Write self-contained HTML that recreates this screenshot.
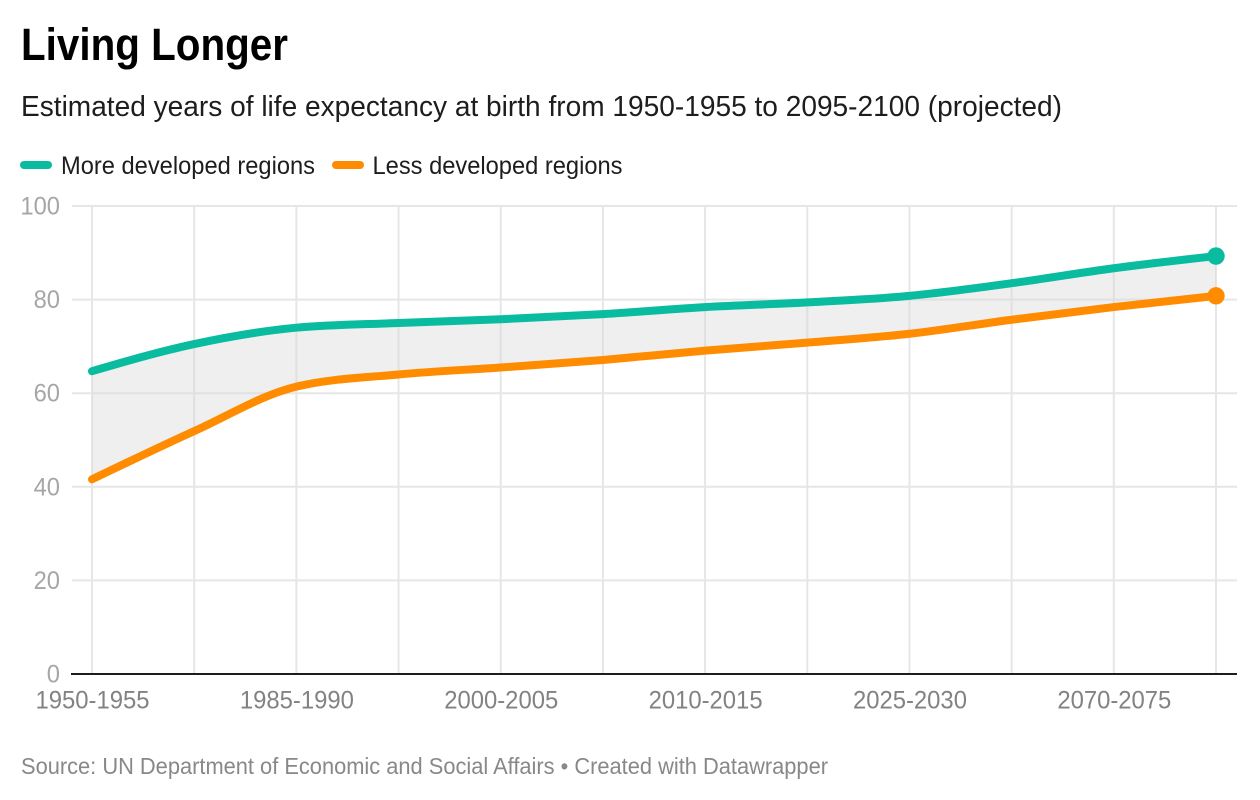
<!DOCTYPE html>
<html lang="en">
<head>
<meta charset="utf-8">
<title>Living Longer</title>
<style>
html,body{margin:0;padding:0;background:#fff;}
svg{display:block;font-family:"Liberation Sans",Arial,sans-serif;}
</style>
</head>
<body>
<svg id="chart" width="1260" height="800" viewBox="0 0 1260 800" xmlns="http://www.w3.org/2000/svg">
  <text x="21" y="60" font-size="45" font-weight="700" fill="#000" textLength="267" lengthAdjust="spacingAndGlyphs">Living Longer</text>
  <text x="21" y="116" font-size="29" fill="#1d1d1d" textLength="1041" lengthAdjust="spacingAndGlyphs">Estimated years of life expectancy at birth from 1950-1955 to 2095-2100 (projected)</text>
  <g>
    <rect x="20" y="161" width="32" height="8" rx="4" fill="#09bb9f"/>
    <text x="61" y="174" font-size="25" fill="#1d1d1d" textLength="254" lengthAdjust="spacingAndGlyphs">More developed regions</text>
    <rect x="332" y="161" width="32" height="8" rx="4" fill="#ff8c00"/>
    <text x="372.5" y="174" font-size="25" fill="#1d1d1d" textLength="250" lengthAdjust="spacingAndGlyphs">Less developed regions</text>
  </g>
  <g id="grid"></g>
  <g id="labels"></g>
  <path id="band" fill="#d7d7d7" fill-opacity="0.4"></path>
  <path id="axis" stroke="#1d1d1d" stroke-width="2" fill="none"></path>
  <path id="lineMore" stroke="#09bb9f" stroke-width="8" stroke-linecap="round" stroke-linejoin="round" fill="none"></path>
  <path id="lineLess" stroke="#ff8c00" stroke-width="8" stroke-linecap="round" stroke-linejoin="round" fill="none"></path>
  <circle id="dotMore" r="8.7" fill="#09bb9f"></circle>
  <circle id="dotLess" r="8.7" fill="#ff8c00"></circle>
  <text x="21" y="774" font-size="23" fill="#888" textLength="807" lengthAdjust="spacingAndGlyphs">Source: UN Department of Economic and Social Affairs • Created with Datawrapper</text>
</svg>
<script>
var categories = ["1950-1955","1970-1975","1985-1990","1995-2000","2000-2005","2005-2010","2010-2015","2015-2020","2025-2030","2045-2050","2070-2075","2095-2100"];
var moreDeveloped = [64.7,70.5,74.0,75.0,75.8,76.9,78.4,79.4,80.8,83.5,86.7,89.3];
var lessDeveloped = [41.6,51.9,61.4,64.0,65.5,67.1,69.1,70.8,72.7,75.7,78.4,80.8];
var yTicks = [0,20,40,60,80,100];
var xLabelEvery = 2;

var NS = "http://www.w3.org/2000/svg";
function x(i){ return 92 + i * (1216 - 92) / (categories.length - 1); }
function y(v){ return 674 - v * (674 - 206) / 100; }

function slope3(p0,p1,p2){
  var h0=p1[0]-p0[0],h1=p2[0]-p1[0],s0=(p1[1]-p0[1])/h0,s1=(p2[1]-p1[1])/h1,p=(s0*h1+s1*h0)/(h0+h1);
  return (Math.sign(s0)+Math.sign(s1))*Math.min(Math.abs(s0),Math.abs(s1),0.5*Math.abs(p))||0;
}
function tangents(pts){
  var n=pts.length,t=[],i;
  for(i=1;i<n-1;i++){t[i]=slope3(pts[i-1],pts[i],pts[i+1]);}
  t[0]=(3*(pts[1][1]-pts[0][1])/(pts[1][0]-pts[0][0])-t[1])/2;
  t[n-1]=(3*(pts[n-1][1]-pts[n-2][1])/(pts[n-1][0]-pts[n-2][0])-t[n-2])/2;
  return t;
}
function segs(pts){
  var t=tangents(pts),d="",i,dx;
  for(i=0;i<pts.length-1;i++){
    dx=(pts[i+1][0]-pts[i][0])/3;
    d+="C"+(pts[i][0]+dx)+","+(pts[i][1]+dx*t[i])+" "+(pts[i+1][0]-dx)+","+(pts[i+1][1]-dx*t[i+1])+" "+pts[i+1][0]+","+pts[i+1][1];
  }
  return d;
}
function toPts(vals){ return vals.map(function(v,i){ return [x(i),y(v)]; }); }

var grid = document.getElementById("grid");
var labels = document.getElementById("labels");

yTicks.forEach(function(t){
  if(t!==0){
    var l=document.createElementNS(NS,"line");
    
    
    l.setAttribute("x1",72);l.setAttribute("x2",1237);
    l.setAttribute("y1",y(t));l.setAttribute("y2",y(t));
    l.setAttribute("stroke","#e6e6e6");l.setAttribute("stroke-width",2);
    grid.appendChild(l);
  }
  var tx=document.createElementNS(NS,"text");
  
  
  tx.setAttribute("x",60);tx.setAttribute("y",y(t)+8.5);
  tx.setAttribute("text-anchor","end");tx.setAttribute("font-size",25);tx.setAttribute("fill","#a6a6a6");
  tx.setAttribute("textLength",String(t).length*13.2);
  tx.setAttribute("lengthAdjust","spacingAndGlyphs");
  tx.textContent=t;
  labels.appendChild(tx);
});

categories.forEach(function(c,i){
  var l=document.createElementNS(NS,"line");
  
  
  l.setAttribute("x1",x(i));l.setAttribute("x2",x(i));
  l.setAttribute("y1",206);l.setAttribute("y2",674);
  l.setAttribute("stroke","#e6e6e6");l.setAttribute("stroke-width",2);
  grid.appendChild(l);
  if(i%xLabelEvery===0){
    var tx=document.createElementNS(NS,"text");
    
    
    tx.setAttribute("x",x(i)+0.5);tx.setAttribute("y",708.5);
    tx.setAttribute("text-anchor","middle");tx.setAttribute("font-size",25);tx.setAttribute("fill","#828282");
    tx.setAttribute("textLength",114);
    tx.setAttribute("lengthAdjust","spacingAndGlyphs");
    tx.textContent=c;
    labels.appendChild(tx);
  }
});

document.getElementById("axis").setAttribute("d","M71,"+y(0)+"H1237");

var pm=toPts(moreDeveloped), pl=toPts(lessDeveloped);
var dm="M"+pm[0][0]+","+pm[0][1]+segs(pm);
var dl="M"+pl[0][0]+","+pl[0][1]+segs(pl);
document.getElementById("lineMore").setAttribute("d",dm);
document.getElementById("lineLess").setAttribute("d",dl);
var rev=pl.slice().reverse();
document.getElementById("band").setAttribute("d",dm+"L"+rev[0][0]+","+rev[0][1]+segs(rev)+"Z");

var last=categories.length-1;
var dM=document.getElementById("dotMore"), dL=document.getElementById("dotLess");
dM.setAttribute("cx",x(last));dM.setAttribute("cy",y(moreDeveloped[last]));
dL.setAttribute("cx",x(last));dL.setAttribute("cy",y(lessDeveloped[last]));
</script>
</body>
</html>
